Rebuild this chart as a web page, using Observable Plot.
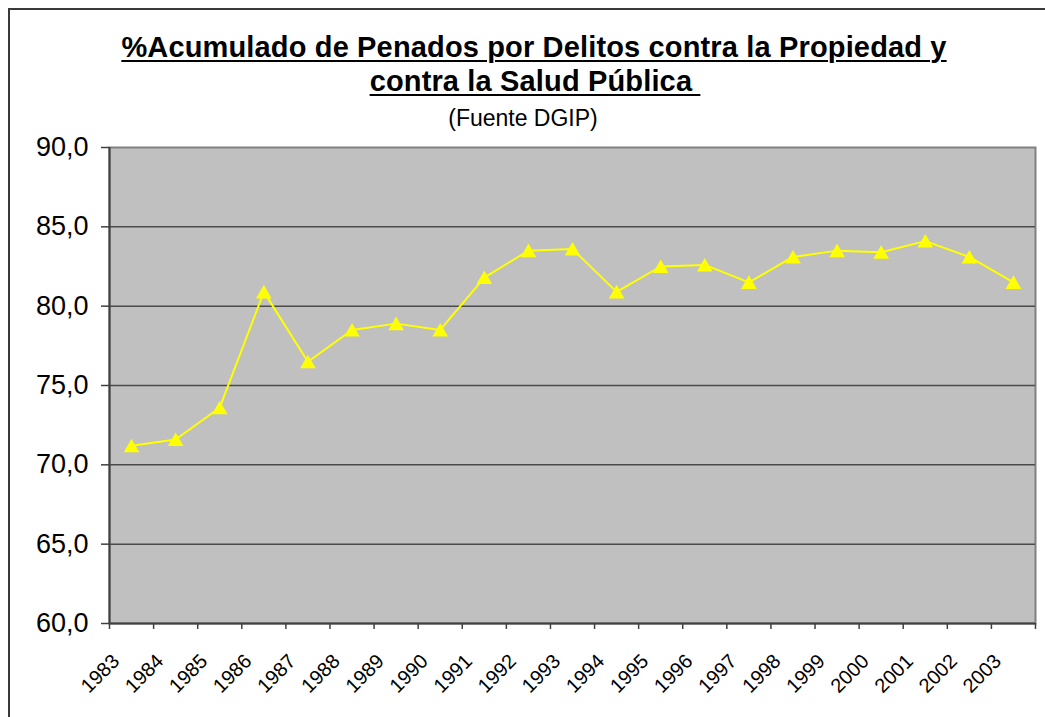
<!DOCTYPE html>
<html>
<head>
<meta charset="utf-8">
<script src="https://cdn.jsdelivr.net/npm/d3@7"></script>
<script src="https://cdn.jsdelivr.net/npm/@observablehq/plot@0.6"></script>
<style>
  html, body { margin: 0; padding: 0; background: #fff; overflow: hidden; }
  #page { position: relative; width: 1045px; height: 717px; overflow: hidden; font-family: "Liberation Sans", Arial, sans-serif; }
  #frame { position: absolute; left: 8px; top: 8px; width: 1100px; height: 800px; border: 2px solid #3a3a3a; box-sizing: border-box; z-index: 0; }
  #titles { position: relative; height: 137px; z-index: 1; }
  .t { position: absolute; width: 1000px; text-align: center; white-space: pre; color: #000; }
  .b { font-weight: bold; font-size: 29px; line-height: 29px; letter-spacing: 0.15px; text-decoration: underline; text-decoration-thickness: 2px; text-underline-offset: 3px; }
  .s { font-size: 23px; line-height: 23px; }
  #chart { position: relative; z-index: 1; }
  #chart svg { display: block; }
</style>
</head>
<body>
<div id="page">
  <div id="frame"></div>
  <div id="titles">
    <div class="t b" style="left:34px; top:33px;">%Acumulado de Penados por Delitos contra la Propiedad y</div>
    <div class="t b" style="left:35px; top:67px;">contra la Salud Pública </div>
    <div class="t s" style="left:23px; top:107px;">(Fuente DGIP)</div>
  </div>
  <div id="chart"></div>
</div>
<script>
const years = [1983, 1984, 1985, 1986, 1987, 1988, 1989, 1990, 1991, 1992, 1993,
               1994, 1995, 1996, 1997, 1998, 1999, 2000, 2001, 2002, 2003];
const values = [71.2, 71.6, 73.6, 80.9, 76.5, 78.5, 78.9, 78.5, 81.8, 83.5, 83.6,
                80.9, 82.5, 82.6, 81.5, 83.1, 83.5, 83.4, 84.1, 83.1, 81.5];
const yTicks = [60, 65, 70, 75, 80, 85, 90];

const data = years.map((y, i) => ({year: y, value: values[i]}));
const boundaries = years.map(y => y - 0.5).concat([years[years.length - 1] + 0.5]);
const fmt = d => d.toFixed(1).replace(".", ",");

const chart = Plot.plot({
  width: 1045,
  height: 580,
  marginTop: 10,
  marginBottom: 94,
  marginLeft: 109,
  marginRight: 10,
  style: {fontFamily: "'Liberation Sans', Arial, sans-serif", background: "transparent", color: "#000", overflow: "visible"},
  x: {type: "linear", domain: [boundaries[0], boundaries[boundaries.length - 1]]},
  y: {domain: [yTicks[0], yTicks[yTicks.length - 1]]},
  marks: [
    Plot.frame({fill: "#c0c0c0", stroke: "#808080", strokeWidth: 2}),
    Plot.ruleY(yTicks.slice(1, -1), {stroke: "#4a4a4a", strokeWidth: 1.5}),
    Plot.ruleX([boundaries[0]], {stroke: "#404040", strokeWidth: 2}),
    Plot.ruleY([yTicks[0]], {stroke: "#404040", strokeWidth: 2}),
    Plot.axisY(yTicks, {tickSize: 8, tickPadding: 13, fontSize: 27, tickFormat: fmt, stroke: "#404040", strokeWidth: 1.5, label: null}),
    Plot.axisX(boundaries, {tickSize: 6, tickFormat: () => "", stroke: "#404040", strokeWidth: 1.5, label: null}),
    Plot.text(years, {x: d => d, text: d => String(d), frameAnchor: "bottom", rotate: -45,
                      textAnchor: "end", lineAnchor: "bottom", dx: -11, dy: 39, fontSize: 20, fill: "#000"}),
    Plot.line(data, {x: "year", y: "value", stroke: "#ffff00", strokeWidth: 2}),
    Plot.dot(data, {x: "year", y: "value", symbol: "triangle", fill: "#ffff00", r: 5.8, dy: 2})
  ]
});
document.getElementById("chart").appendChild(chart);
</script>
</body>
</html>
